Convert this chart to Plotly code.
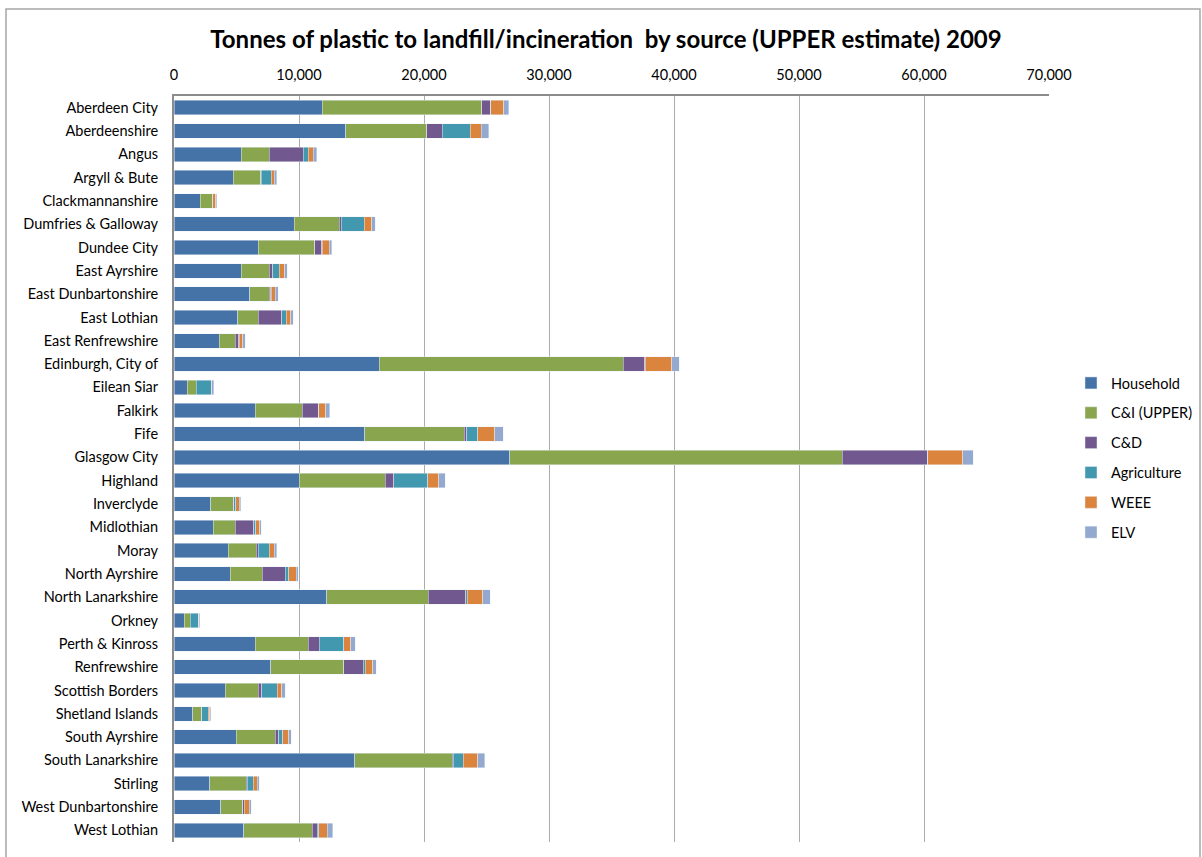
import plotly.graph_objects as go

# Council areas, top to bottom
areas = [
    "Aberdeen City", "Aberdeenshire", "Angus", "Argyll & Bute", "Clackmannanshire",
    "Dumfries & Galloway", "Dundee City", "East Ayrshire", "East Dunbartonshire",
    "East Lothian", "East Renfrewshire", "Edinburgh, City of", "Eilean Siar", "Falkirk",
    "Fife", "Glasgow City", "Highland", "Inverclyde", "Midlothian", "Moray",
    "North Ayrshire", "North Lanarkshire", "Orkney", "Perth & Kinross", "Renfrewshire",
    "Scottish Borders", "Shetland Islands", "South Ayrshire", "South Lanarkshire",
    "Stirling", "West Dunbartonshire", "West Lothian",
]

# Tonnes by source
household = [11840, 13740, 5360, 4720, 2080, 9600, 6720, 5360, 6060, 5100, 3600, 16400,
             1070, 6480, 15260, 26860, 10030, 2940, 3120, 4320, 4480, 12220, 800, 6480,
             7740, 4110, 1500, 4990, 14460, 2860, 3740, 5580]
ci_upper = [12780, 6480, 2270, 2220, 960, 3630, 4540, 2270, 1570, 1650, 1310, 19520,
            690, 3790, 7970, 26610, 6880, 1810, 1790, 2240, 2560, 8100, 480, 4270,
            5840, 2610, 690, 3120, 7790, 2900, 1760, 5460]
cd = [670, 1250, 2720, 40, 30, 130, 560, 270, 110, 1870, 270, 1740,
      20, 1250, 190, 6770, 670, 30, 1470, 160, 1840, 3020, 20, 850,
      1540, 300, 20, 270, 80, 80, 100, 400]
agriculture = [30, 2240, 370, 800, 40, 1870, 20, 500, 20, 340, 20, 30,
               1200, 50, 880, 60, 2720, 160, 160, 880, 300, 100, 620, 1980,
               160, 1220, 530, 320, 800, 510, 20, 140]
weee = [1040, 880, 400, 240, 220, 590, 580, 460, 340, 380, 290, 2130,
        50, 560, 1360, 2780, 880, 270, 320, 400, 580, 1260, 40, 560,
        620, 380, 110, 480, 1150, 290, 380, 690]
elv = [430, 590, 300, 210, 80, 290, 190, 210, 220, 210, 210, 590,
       140, 320, 660, 850, 500, 130, 100, 220, 190, 580, 80, 370,
       290, 260, 80, 210, 580, 190, 160, 430]

series = [
    ("Household", household, "#4572A7"),
    ("C&I (UPPER)", ci_upper, "#89A54E"),
    ("C&D", cd, "#71588F"),
    ("Agriculture", agriculture, "#4198AF"),
    ("WEEE", weee, "#DB843D"),
    ("ELV", elv, "#93A9CF"),
]

x_ticks = list(range(0, 70001, 10000))

FONT = "Lato, 'Open Sans', sans-serif"

fig = go.Figure()
for name, vals, color in series:
    fig.add_trace(go.Bar(
        y=areas, x=vals, name=name, orientation="h",
        legendgroup=name,
        marker=dict(color=color, line=dict(color="rgba(235,240,248,0.8)", width=0.6)),
    ))

# chart-area frame
L, R, T, B = 174, 1049, 96, 842
W, H = 1202, 857
px = lambda v: (v - L) / (R - L)
py = lambda v: (B - v) / (B - T)
fig.add_shape(type="rect", xref="paper", yref="paper",
              x0=px(6), x1=px(1200), y0=py(870), y1=py(9),
              line=dict(color="#A6A6A6", width=1.5), fillcolor="rgba(0,0,0,0)", layer="below")

fig.update_layout(
    width=W, height=H,
    margin=dict(l=L, r=W - R, t=T, b=H - B, autoexpand=False),
    barmode="stack", bargap=0.38,
    paper_bgcolor="white", plot_bgcolor="white",
    font=dict(family=FONT, size=14.5, color="#000000"),
    title=dict(
        text="Tonnes of plastic to landfill/incineration\u00a0 by source (UPPER estimate) 2009",
        x=606 / W, xanchor="center", y=1 - 40 / H, yanchor="middle",
        font=dict(family=FONT, size=24, color="#000000", weight="bold"),
    ),
    xaxis=dict(
        side="top", range=[0, 70000], tickvals=x_ticks, tickformat=",",
        showgrid=True, gridcolor="#ABABAB", gridwidth=1,
        showline=True, linecolor="#8C8C8C", linewidth=1.5,
        ticks="outside", ticklen=8, tickcolor="rgba(0,0,0,0)",
        zeroline=False, tickfont=dict(size=14.5),
        mirror=False,
    ),
    yaxis=dict(
        autorange="reversed", showgrid=False,
        showline=True, linecolor="#8C8C8C", linewidth=2,
        ticks="outside", ticklen=11, tickcolor="rgba(0,0,0,0)",
        tickfont=dict(size=14.5),
    ),
    legend=dict(
        x=px(1071), xanchor="left", y=py(458), yanchor="middle",
        traceorder="grouped", tracegroupgap=8,
        font=dict(size=14.5), bgcolor="rgba(0,0,0,0)",
    ),
)

fig.write_html("out.html")
